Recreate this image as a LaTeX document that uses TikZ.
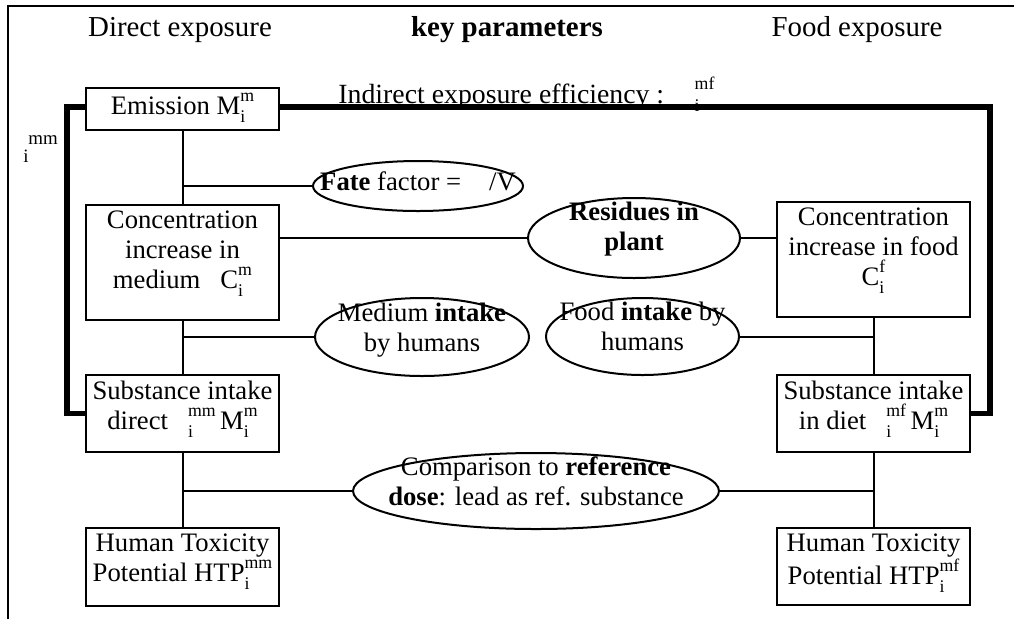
\documentclass[tikz,border=0pt]{standalone}
\usepackage{fontspec}
\setmainfont{Liberation Serif}
\usetikzlibrary{shapes.geometric}
\newcommand{\idx}[2]{\rlap{\raisebox{-0.3em}{\fontsize{8}{9}\selectfont #1}}\raisebox{0.48em}{\fontsize{8}{9}\selectfont #2}}
\newcommand{\stagebox}[2]{\parbox[c][#1][t]{86.5pt}{\centering #2}}
\newcommand{\ovaltext}[2]{\makebox[0pt]{\raisebox{#1}[0pt][0pt]{\begin{tabular}{@{}c@{}}#2\end{tabular}}}}

\begin{document}
\begin{tikzpicture}[x=0.45pt, y=-0.45pt,
		stage/.style={draw, line width=0.9pt, inner xsep=0pt, inner ysep=2.5pt},
		oval/.style={ellipse, draw, line width=0.9pt, inner sep=0pt},
		link/.style={line width=0.9pt},
		bracket/.style={line width=2.3pt},
		head/.style={font=\fontsize{13}{15}\selectfont},
		tiny/.style={font=\fontsize{8.5}{10}\selectfont, inner sep=0pt},
		font=\fontsize{12}{13.5}\selectfont]
	\useasboundingbox (0,0) rectangle (1014,619);
	\draw[link] (8,619) -- (8,6) -- (1014,6);
	\node[head] (direct) at (180,30) {Direct exposure};
	\node[head, font=\fontsize{13}{15}\selectfont\bfseries] (keypar) at (507,30) {key parameters};
	\node[head] (foodexp) at (857,30) {Food exposure};
	\node[anchor=base west, inner sep=0pt, font=\fontsize{12.5}{15}\selectfont] (indirect) at (338,103)
		{Indirect exposure efficiency :\hspace{1.1em}\idx{i}{mf}};
	\node[tiny] (mmlab) at (43,140) {mm};
	\node[tiny] (ilab) at (26,156) {i};

	\node[stage] (emis) at (182.5,109) {\stagebox{13.9pt}{Emission M\idx{i}{m}}};
	\node[stage] (concm) at (182.5,262.5) {\stagebox{46.75pt}{Concentration\\increase in\\medium\ \ \ C\idx{i}{m}}};
	\node[stage] (substd) at (182.5,413.5) {\stagebox{29.65pt}{Substance intake\\direct\ \ \ \idx{i}{mm}\,{\large M}\idx{i}{m}}};
	\node[stage] (htd) at (182.5,567) {\stagebox{30.1pt}{Human Toxicity\\Potential HTP\idx{i}{mm}}};
	\node[stage] (concf) at (873.5,259.5) {\stagebox{46.75pt}{Concentration\\increase in food\\C\idx{i}{f}}};
	\node[stage] (substf) at (873.5,413.5) {\stagebox{29.65pt}{Substance intake\\in diet\ \ \ \idx{i}{mf}\,{\large M}\idx{i}{m}}};
	\node[stage] (htf) at (873.5,566.5) {\stagebox{29.65pt}{Human Toxicity\\Potential HTP\idx{i}{mf}}};

	\node[oval, minimum width=94.5pt, minimum height=22.5pt] (fate) at (418,186)
		{\ovaltext{-2.5pt}{\textbf{Fate} factor = \hspace{0.8em}/V}};
	\node[oval, minimum width=95.4pt, minimum height=36pt] (residues) at (634,238)
		{\ovaltext{1pt}{\textbf{Residues in}\\\textbf{plant}}};
	\node[oval, minimum width=96.3pt, minimum height=35.1pt] (medium) at (422,337)
		{\ovaltext{0pt}{Medium \textbf{intake}\\by humans}};
	\node[oval, minimum width=86.85pt, minimum height=34.65pt] (food) at (642.5,336.5)
		{\ovaltext{0pt}{Food \textbf{intake} by\\humans}};
	\node[oval, minimum width=164.7pt, minimum height=34.2pt] (comparison) at (536,491)
		{\ovaltext{0pt}{Comparison to \textbf{reference}\\\textbf{dose}: lead as ref. substance}};

	\draw[link] (emis) -- (concm);
	\draw[link] (concm) -- (substd);
	\draw[link] (substd) -- (htd);
	\draw[link] (concf) -- (substf);
	\draw[link] (substf) -- (htf);
	\draw[link] (emis.south |- fate.west) -- (fate.west);
	\draw[link] (residues.west -| concm.east) -- (residues.west);
	\draw[link] (residues.east) -- (residues.east -| concf.west);
	\draw[link] (concm.south |- medium.west) -- (medium.west);
	\draw[link] (food.east) -- (food.east -| concf.south);
	\draw[link] (substd.south |- comparison.west) -- (comparison.west);
	\draw[link] (comparison.east) -- (comparison.east -| substf.south);

	\coordinate (rightbar) at (990,107);
	\coordinate (leftbar) at (67,107);
	\draw[bracket] (emis.east |- rightbar) -- (rightbar) -- (substf.east -| rightbar) -- (substf.east);
	\draw[bracket] (emis.west |- leftbar) -- (leftbar) -- (substd.west -| leftbar) -- (substd.west);
\end{tikzpicture}
\end{document}
